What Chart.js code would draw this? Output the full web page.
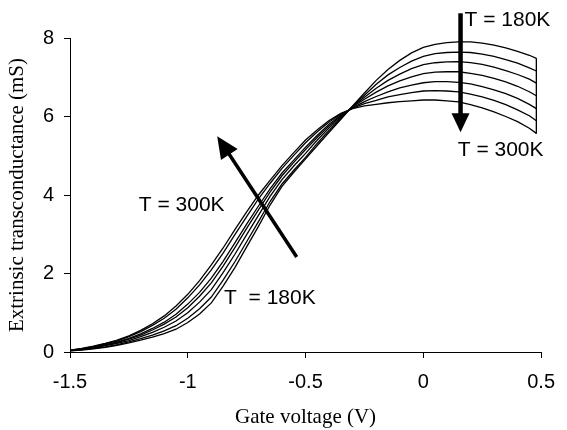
<!DOCTYPE html>
<html><head><meta charset="utf-8">
<script src="https://cdn.jsdelivr.net/npm/chart.js@4"></script>
<style>html,body{margin:0;padding:0;background:#fff}#wrap{width:567px;height:430px;position:relative}</style>
</head><body><div id="wrap"><canvas id="c" width="567" height="430"></canvas></div>
<script>
// Gate voltage (V), shared x grid of every curve
const gateVoltage = [-1.5,-1.45,-1.4,-1.35,-1.3,-1.25,-1.2,-1.15,-1.1,-1.05,
  -1.0,-0.95,-0.9,-0.85,-0.8,-0.75,-0.7,-0.65,-0.6,-0.55,
  -0.5,-0.45,-0.4,-0.35,-0.3,-0.25,-0.2,-0.15,-0.1,-0.05,
  0,0.05,0.1,0.15,0.2,0.25,0.3,0.35,0.4,0.45,0.48];

// Extrinsic transconductance (mS), one array per temperature
const gm180K = [0.03,0.05,0.08,0.12,0.17,0.23,0.30,0.38,0.47,0.58,
  0.75,0.97,1.25,1.68,2.15,2.68,3.20,3.75,4.22,4.58,
  4.92,5.26,5.60,5.93,6.27,6.60,6.92,7.20,7.43,7.62,
  7.76,7.84,7.88,7.90,7.90,7.87,7.82,7.75,7.66,7.56,7.48];
const gm200K = [0.03,0.06,0.09,0.13,0.19,0.26,0.34,0.43,0.54,0.67,
  0.86,1.10,1.40,1.83,2.30,2.81,3.32,3.84,4.28,4.63,
  4.96,5.32,5.65,5.95,6.26,6.54,6.82,7.06,7.25,7.41,
  7.53,7.60,7.63,7.64,7.63,7.59,7.53,7.45,7.36,7.24,7.16];
const gm220K = [0.04,0.06,0.10,0.16,0.22,0.29,0.39,0.50,0.63,0.79,
  1.00,1.27,1.59,2.02,2.49,2.99,3.48,3.97,4.39,4.74,
  5.06,5.40,5.71,5.98,6.25,6.49,6.72,6.92,7.08,7.22,
  7.32,7.37,7.39,7.40,7.37,7.33,7.26,7.17,7.07,6.95,6.85];
const gm240K = [0.04,0.07,0.12,0.17,0.24,0.33,0.43,0.56,0.71,0.89,
  1.13,1.42,1.76,2.19,2.66,3.15,3.62,4.08,4.49,4.83,
  5.16,5.47,5.76,6.01,6.24,6.44,6.62,6.78,6.91,7.01,
  7.09,7.13,7.14,7.14,7.10,7.05,6.97,6.88,6.77,6.63,6.53];
const gm260K = [0.04,0.08,0.13,0.19,0.25,0.35,0.46,0.60,0.76,0.96,
  1.22,1.52,1.88,2.31,2.78,3.26,3.72,4.16,4.56,4.89,
  5.22,5.52,5.80,6.03,6.22,6.38,6.51,6.63,6.73,6.80,
  6.86,6.89,6.89,6.87,6.83,6.76,6.68,6.58,6.46,6.31,6.20];
const gm280K = [0.05,0.08,0.14,0.21,0.28,0.39,0.52,0.68,0.86,1.09,
  1.38,1.71,2.09,2.52,2.99,3.45,3.90,4.30,4.68,5.01,
  5.33,5.61,5.86,6.06,6.21,6.33,6.41,6.50,6.56,6.61,
  6.65,6.66,6.65,6.63,6.57,6.50,6.41,6.30,6.17,6.02,5.89];
const gm300K = [0.05,0.09,0.15,0.22,0.30,0.41,0.55,0.72,0.92,1.17,
  1.47,1.82,2.22,2.65,3.12,3.57,4.00,4.38,4.75,5.08,
  5.40,5.66,5.90,6.08,6.20,6.27,6.31,6.35,6.38,6.40,
  6.42,6.42,6.40,6.37,6.30,6.22,6.12,6.00,5.87,5.70,5.57];

const seriesNames = ['180K','200K','220K','240K','260K','280K','300K'];
const seriesValues = [gm180K,gm200K,gm220K,gm240K,gm260K,gm280K,gm300K];

const xTicks = [-1.5,-1,-0.5,0,0.5];
const xTickLabels = ['-1.5','-1','-0.5','0','0.5'];
const yTicks = [0,2,4,6,8];
const yTickLabels = ['0','2','4','6','8'];
const xTitle = 'Gate voltage (V)';
const yTitle = 'Extrinsic transconductance (mS)';

// annotation texts and arrows (in axis units)
const noteTexts = [
  {text:'T = 180K', x:0.175, y:8.45},
  {text:'T = 300K', x:0.146, y:5.14},
  {text:'T = 300K', x:-1.208, y:3.74},
  {text:'T  = 180K', x:-0.846, y:1.37}
];
const noteArrows = [
  {x0:0.158, y0:8.63, x1:0.158, y1:5.60, w:4.5, head:19, hw:9},
  {x0:-0.5375, y0:2.42, x1:-0.875, y1:5.50, w:3.5, head:22, hw:10}
];

const datasets = seriesNames.map((n,i)=>({
  label:n,
  data: gateVoltage.map((v,j)=>({x:v,y:seriesValues[i][j]})),
  borderColor:'#000', borderWidth:1.3, pointRadius:0, fill:false, tension:0
}));
// closing segment joining the end points of the curves at the last voltage
const last = gateVoltage.length-1;
datasets.push({
  label:'end',
  data:[{x:gateVoltage[last],y:seriesValues[0][last]},{x:gateVoltage[last],y:seriesValues[seriesValues.length-1][last]}],
  borderColor:'#000', borderWidth:1, pointRadius:0, fill:false
});

const notesPlugin = {
  id:'notes',
  afterDatasetsDraw(chart){
    const ctx = chart.ctx, xs = chart.scales.x, ys = chart.scales.y;
    ctx.save();
    ctx.fillStyle = '#000'; ctx.strokeStyle = '#000';
    noteArrows.forEach(a=>{
      const x0 = xs.getPixelForValue(a.x0), y0 = ys.getPixelForValue(a.y0);
      const x1 = xs.getPixelForValue(a.x1), y1 = ys.getPixelForValue(a.y1);
      const dx = x1-x0, dy = y1-y0, L = Math.hypot(dx,dy), ux = dx/L, uy = dy/L;
      const bx = x1 - ux*a.head, by = y1 - uy*a.head;
      ctx.lineWidth = a.w; ctx.lineCap = 'butt';
      ctx.beginPath(); ctx.moveTo(x0,y0); ctx.lineTo(bx+ux*2,by+uy*2); ctx.stroke();
      ctx.beginPath();
      ctx.moveTo(x1,y1);
      ctx.lineTo(bx - uy*a.hw, by + ux*a.hw);
      ctx.lineTo(bx + uy*a.hw, by - ux*a.hw);
      ctx.closePath(); ctx.fill();
    });
    ctx.font = '21px "Liberation Sans", Arial, sans-serif';
    ctx.textAlign = 'left'; ctx.textBaseline = 'middle';
    noteTexts.forEach(t=>{
      ctx.fillText(t.text, xs.getPixelForValue(t.x), ys.getPixelForValue(t.y));
    });
    ctx.restore();
  }
};

new Chart(document.getElementById('c'), {
  type:'line',
  data:{datasets},
  options:{
    responsive:false, animation:false, devicePixelRatio:1,
    layout:{padding:{left:0,right:17,top:38,bottom:0}},
    plugins:{legend:{display:false}, tooltip:{enabled:false}},
    scales:{
      x:{
        type:'linear', min:-1.5, max:0.5,
        afterBuildTicks(s){ s.ticks = xTicks.map(v=>({value:v})); },
        afterFit(s){ s.height = 78; },
        grid:{display:true, drawOnChartArea:false, drawTicks:true, tickLength:6, color:'#000', lineWidth:1},
        border:{display:true, color:'#000', width:1},
        ticks:{color:'#000', padding:12, maxRotation:0, autoSkip:false,
          callback:(v,i)=>xTickLabels[i],
          font:{family:'"Liberation Sans", Arial, sans-serif', size:20}},
        title:{display:true, text:xTitle, color:'#000', padding:{top:0,bottom:0}, font:{family:'"Liberation Serif", "Times New Roman", serif', size:21}}
      },
      y:{
        type:'linear', min:0, max:8,
        afterBuildTicks(s){ s.ticks = yTicks.map(v=>({value:v})); },
        afterFit(s){ s.width = 70; },
        grid:{display:true, drawOnChartArea:false, drawTicks:true, tickLength:6, color:'#000', lineWidth:1},
        border:{display:true, color:'#000', width:1},
        ticks:{color:'#000', padding:10, autoSkip:false,
          callback:(v,i)=>yTickLabels[i],
          font:{family:'"Liberation Sans", Arial, sans-serif', size:20}},
        title:{display:true, text:yTitle, color:'#000', padding:{top:5,bottom:0}, font:{family:'"Liberation Serif", "Times New Roman", serif', size:21}}
      }
    }
  },
  plugins:[notesPlugin]
});
</script>
</body></html>
